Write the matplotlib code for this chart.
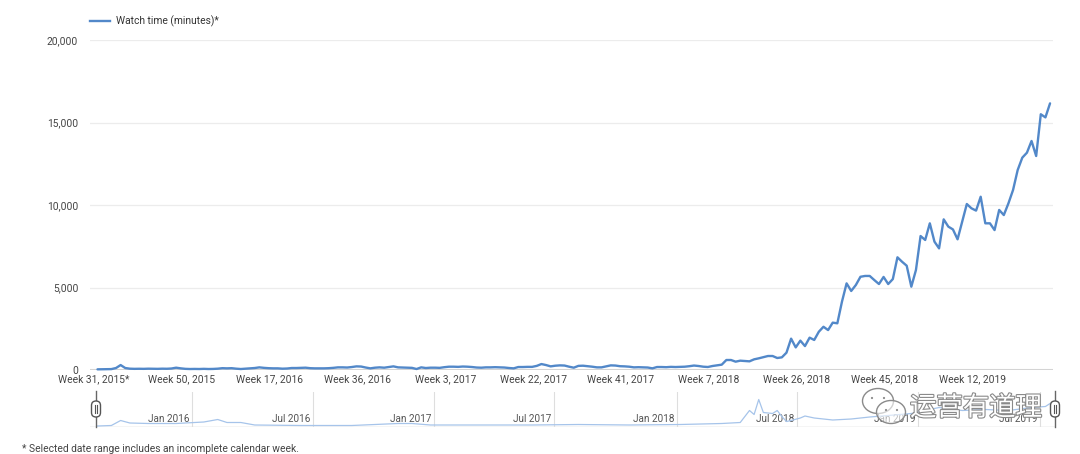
import matplotlib
matplotlib.use('Agg')
import matplotlib.pyplot as plt
import numpy as np
from matplotlib.patches import FancyBboxPatch, Ellipse
from matplotlib.lines import Line2D
from matplotlib.transforms import IdentityTransform
import matplotlib.patheffects as pe

plt.rcParams['font.family'] = ['Roboto', 'DejaVu Sans']

# ---------------- data ----------------
series_name = 'Watch time (minutes)*'
watch_minutes = [
    40, 45, 50, 55, 120, 300, 120, 80, 70, 75,
    70, 80, 75, 70, 80, 75, 90, 140, 100, 70,
    60, 65, 60, 70, 60, 65, 80, 110, 100, 110,
    80, 60, 80, 100, 120, 160, 130, 110, 100, 100,
    80, 90, 120, 120, 130, 140, 110, 100, 100, 100,
    110, 130, 160, 160, 150, 180, 220, 210, 150, 100,
    140, 160, 140, 180, 220, 160, 150, 140, 130, 60,
    160, 120, 140, 140, 130, 170, 200, 200, 190, 210,
    200, 180, 150, 140, 160, 160, 170, 160, 150, 120,
    100, 180, 180, 190, 190, 250, 360, 300, 220, 260,
    280, 270, 200, 140, 250, 260, 230, 200, 160, 160,
    220, 280, 270, 230, 220, 200, 160, 170, 160, 150,
    100, 180, 180, 170, 190, 180, 190, 200, 230, 270,
    242, 200, 182, 242, 280, 323, 606, 606, 505, 565,
    545, 525, 646, 707, 780, 848, 848, 727, 767, 1050,
    1900, 1370, 1780, 1450, 1960, 1820, 2320, 2620, 2420, 2870,
    2830, 4140, 5250, 4790, 5150, 5650, 5700, 5700, 5450, 5210,
    5640, 5210, 5510, 6830, 6560, 6320, 5050, 6060, 8120, 7880,
    8890, 7780, 7370, 9130, 8690, 8520, 7920, 9000, 10060, 9800,
    9660, 10500, 8890, 8890, 8480, 9700, 9390, 10100, 10910, 12120,
    12870, 13170, 13880, 12970, 15500, 15310, 16160,
]
week_tick_labels = ['Week 31, 2015*', 'Week 50, 2015', 'Week 17, 2016', 'Week 36, 2016',
                    'Week 3, 2017', 'Week 22, 2017', 'Week 41, 2017', 'Week 7, 2018',
                    'Week 26, 2018', 'Week 45, 2018', 'Week 12, 2019']
week_tick_step = 19
y_ticks = [0, 5000, 10000, 15000, 20000]

# overview (navigator) strip
nav_weeks = [0, 3, 5, 7, 11, 17, 21, 23, 26, 28, 31, 34, 44, 55, 65, 68, 72, 83, 94, 104,
             115, 126, 135, 139, 141, 142, 143, 144, 146, 147, 148, 149, 150, 152, 153, 155,
             159, 163, 167, 171, 176, 182, 187, 192, 197, 202, 205, 206]
nav_values = [0.5, 1, 6, 3.5, 3, 3, 4, 4.5, 7, 4, 4, 1.5, 1, 1, 3, 3, 1.5, 1.5, 1.5, 2,
              1.5, 2, 3, 4, 16, 12, 27, 14, 13, 16, 10, 5, 6, 8.5, 10.5, 8.5,
              6.5, 7.5, 9.5, 11, 13, 19, 16, 17, 16, 19, 20, 23]
nav_labels = ['Jan 2016', 'Jul 2016', 'Jan 2017', 'Jul 2017', 'Jan 2018', 'Jul 2018',
              'Jan 2019', 'Jul 2019']
nav_label_weeks = [20.4, 46.6, 72.8, 98.7, 125.3, 151.3, 177.4, 203.8]

footnote = '* Selected date range includes an incomplete calendar week.'
watermark = '运营有道理'

# ---------------- styling ----------------
W, H = 1080, 454
LINE = '#5288c9'
NAV_LINE = '#a6c4ea'
TXT = '#444444'
FS = 7.4

fig = plt.figure(figsize=(W / 100, H / 100), dpi=100)
fig.patch.set_facecolor('white')


def px_to_week(px):
    return (px - 97.5) / 4.624


# main axes: x 90..1053 px, y 40..370 px
ax = fig.add_axes([90 / W, 1 - 370 / H, 963 / W, 330 / H])
x = np.arange(len(watch_minutes))
ax.set_xlim(px_to_week(90), px_to_week(1053))
ax.set_ylim(0, 20000)
for yv in y_ticks[1:]:
    ax.axhline(yv, color='#ececec', lw=0.9, zorder=1)
ax.axhline(0, color='#d4d4d4', lw=2.2, zorder=2)
ax.plot(x, watch_minutes, color=LINE, lw=1.7, solid_joinstyle='round',
        solid_capstyle='round', zorder=3, clip_on=False)
for s in ax.spines.values():
    s.set_visible(False)
ax.set_yticks(y_ticks)
ax.set_yticklabels([f'{v:,}' for v in y_ticks])
ax.set_xticks(np.arange(len(week_tick_labels)) * week_tick_step - 0.8)
ax.set_xticklabels(week_tick_labels)
ax.tick_params(axis='both', length=0, labelsize=FS, labelcolor=TXT)
ax.tick_params(axis='y', pad=8.5)
ax.tick_params(axis='x', pad=3.2)

# legend
fig.add_artist(Line2D([90 / W, 110 / W], [1 - 21 / H, 1 - 21 / H], color=LINE, lw=1.7,
                      transform=fig.transFigure))
fig.text(116 / W, 1 - 21 / H, series_name, fontsize=FS, color='#333333', va='center')

# navigator
nav = fig.add_axes([90 / W, 1 - 426.5 / H, 965 / W, 35 / H])
nav.set_xlim(px_to_week(90), px_to_week(1055))
nav.set_ylim(0, 35)
nav.axis('off')
nav.axhline(0, color='#cfcfcf', lw=1.0)
for w, lab in zip(nav_label_weeks, nav_labels):
    nav.axvline(w, color='#dedede', lw=0.8)
    nav.text(w - 0.6, 7.5, lab, ha='right', va='center', fontsize=FS - 0.2, color='#555555')
nav.plot(nav_weeks, nav_values, color=NAV_LINE, lw=0.9, zorder=3)

# navigator handles (display pixel coords, y from bottom)
ident = IdentityTransform()
for hx in (96, 1055):
    fig.add_artist(Line2D([hx, hx], [H - 391, H - 427], color='#666666', lw=1.0,
                          transform=ident))
    fig.add_artist(FancyBboxPatch((hx - 4.5, H - 417), 9, 16,
                                  boxstyle='round,pad=0,rounding_size=4.5',
                                  fc='white', ec='#555555', lw=1.0, transform=ident,
                                  zorder=5))
    for dx in (-1.3, 1.3):
        fig.add_artist(Line2D([hx + dx, hx + dx], [H - 405, H - 413], color='#555555',
                              lw=0.8, transform=ident, zorder=6))

# watermark (WeChat-style)
for cx, cy, ew, eh in ((878, 401, 31, 25), (891, 412, 29, 23)):
    fig.add_artist(Ellipse((cx, H - cy), ew, eh, fc=(1, 1, 1, 0.6), ec='#8a8a8a',
                           lw=1.0, transform=ident, zorder=7))
for dx, dy in ((872, 398), (884, 398), (886, 410), (897, 410)):
    fig.add_artist(Ellipse((dx, H - dy), 2.2, 2.2, fc='#8a8a8a', ec='none',
                           transform=ident, zorder=8))
fig.text(910 / W, 1 - 408 / H, watermark, fontsize=19,
         family=['Noto Sans CJK SC', 'DejaVu Sans'], color='white', va='center',
         path_effects=[pe.withStroke(linewidth=1.6, foreground='#8a8a8a')], zorder=9)

# footnote
fig.text(22 / W, 1 - 449 / H, footnote, fontsize=FS, color=TXT, va='center')

fig.savefig('out.png', dpi=100)
